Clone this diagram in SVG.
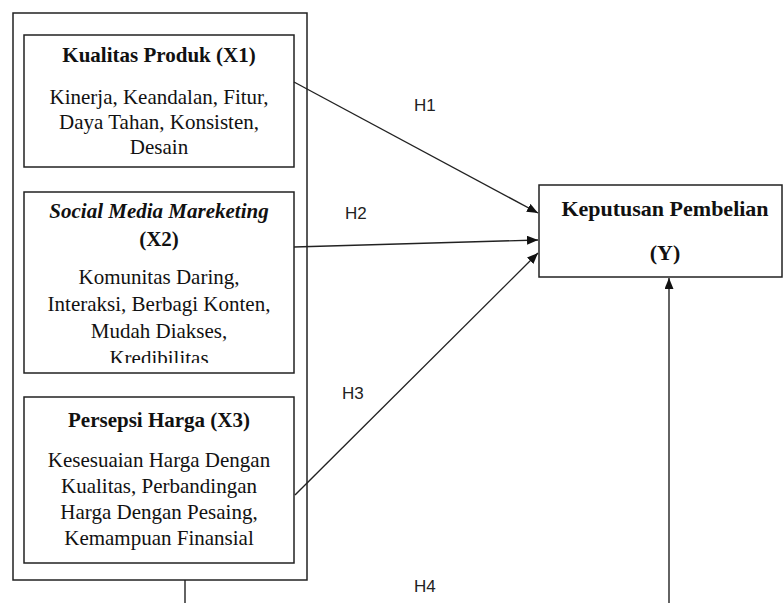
<svg xmlns="http://www.w3.org/2000/svg" width="783" height="603" viewBox="0 0 783 603">
<style>
.box{fill:#fff;stroke:#222;stroke-width:1.5}
.t{font-family:"Liberation Serif","Times New Roman",serif;font-size:21px;fill:#111;text-anchor:middle}
.b{font-weight:bold}
.i{font-style:italic}
.h{font-family:"Liberation Sans",Arial,sans-serif;font-size:17px;fill:#222}
.c{stroke:#222;stroke-width:1.4;fill:none}
</style>
<defs>
<marker id="ah" markerUnits="userSpaceOnUse" markerWidth="12" markerHeight="10" refX="11" refY="4.5" orient="auto">
<path d="M0,0 L11,4.5 L0,9 z" fill="#111"/>
</marker>
<clipPath id="clipX2"><rect x="24" y="192" width="270" height="171"/></clipPath>
</defs>
<g id="outer">
<rect class="box" x="13" y="13" width="294" height="567" fill="none"/>
</g>
<g id="x1">
<rect class="box" x="24" y="35" width="270" height="132"/>
<text class="t b" x="159" y="62">Kualitas Produk (X1)</text>
<text class="t" x="159" y="104">Kinerja, Keandalan, Fitur,</text>
<text class="t" x="159" y="129">Daya Tahan, Konsisten,</text>
<text class="t" x="159" y="154">Desain</text>
</g>
<g id="x2">
<rect class="box" x="24" y="192" width="270" height="181"/>
<text class="t b i" x="159" y="218">Social Media Mareketing</text>
<text class="t b" x="159" y="246">(X2)</text>
<g clip-path="url(#clipX2)">
<text class="t" x="159" y="284">Komunitas Daring,</text>
<text class="t" x="159" y="311">Interaksi, Berbagi Konten,</text>
<text class="t" x="159" y="338">Mudah Diakses,</text>
<text class="t" x="159" y="365">Kredibilitas</text>
</g>
</g>
<g id="x3">
<rect class="box" x="24" y="397" width="270" height="166"/>
<text class="t b" x="159" y="427">Persepsi Harga (X3)</text>
<text class="t" x="159" y="467">Kesesuaian Harga Dengan</text>
<text class="t" x="159" y="493">Kualitas, Perbandingan</text>
<text class="t" x="159" y="519">Harga Dengan Pesaing,</text>
<text class="t" x="159" y="545">Kemampuan Finansial</text>
</g>
<g id="y">
<rect class="box" x="539" y="185" width="243" height="92"/>
<text class="t b" x="665" y="216" style="font-size:22px">Keputusan Pembelian</text>
<text class="t b" x="665" y="260" style="font-size:22px">(Y)</text>
</g>
<g id="connectors">
<line class="c" x1="294" y1="82" x2="538" y2="213" marker-end="url(#ah)"/>
<line class="c" x1="294" y1="247" x2="538" y2="240" marker-end="url(#ah)"/>
<line class="c" x1="295" y1="495" x2="538" y2="253" marker-end="url(#ah)"/>
<line class="c" x1="185" y1="580" x2="185" y2="603"/>
<line class="c" x1="669" y1="603" x2="669" y2="278" marker-end="url(#ah)"/>
<text class="h" x="414" y="111">H1</text>
<text class="h" x="345" y="219">H2</text>
<text class="h" x="342" y="399">H3</text>
<text class="h" x="414" y="592">H4</text>
</g>
</svg>
